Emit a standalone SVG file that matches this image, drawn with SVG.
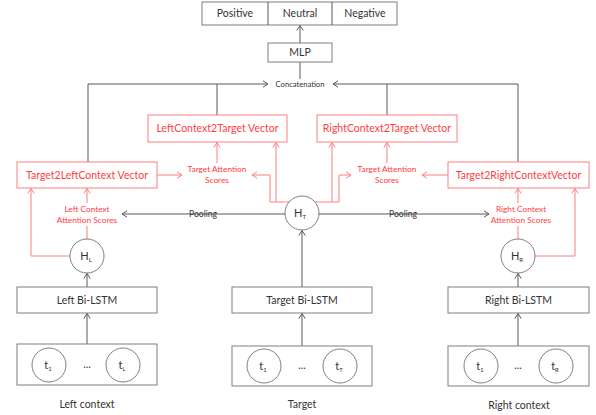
<svg xmlns="http://www.w3.org/2000/svg" width="596" height="415" viewBox="0 0 596 415">
<style>
.box{fill:#fff;stroke:#7f7f7f;stroke-width:1}
.rbox{fill:#fff;stroke:#ff7f7f;stroke-width:1}
.circ{fill:#fff;stroke:#7f7f7f;stroke-width:1}
.g{fill:none;stroke:#595959;stroke-width:1}
.r{fill:none;stroke:#ff7f7f;stroke-width:1}
text{font-family:Lato,"Liberation Sans",sans-serif;text-anchor:middle;fill:#333}
.t{font-size:10.5px}
.rt{font-size:10.5px;fill:#ff4040}
.st{font-size:8.3px;fill:#ff4040}
.sm{font-size:7.6px}
.pl{font-size:8.6px}
.lbl{font-size:11px}
.sub{font-size:6px}
</style>
<defs>
<marker id="ag" markerUnits="userSpaceOnUse" markerWidth="8" markerHeight="8" refX="6" refY="4" orient="auto">
<path d="M1,0.8 L6,4 L1,7.2" fill="none" stroke="#595959" stroke-width="1"/>
</marker>
<marker id="ar" markerUnits="userSpaceOnUse" markerWidth="8" markerHeight="8" refX="6" refY="4" orient="auto">
<path d="M1,0.8 L6,4 L1,7.2" fill="none" stroke="#ff7f7f" stroke-width="1"/>
</marker>
</defs>

<g id="connectors">
<path class="g" d="M300,43 V25.5" marker-end="url(#ag)"/>
<path class="g" d="M300,62 V79"/>
<path class="g" d="M88,162 V84 H268" marker-end="url(#ag)"/>
<path class="g" d="M518,162 V84 H333" marker-end="url(#ag)"/>
<path class="g" d="M217,84 V115"/>
<path class="g" d="M387,84 V115"/>
<path class="g" d="M285,214 H122" marker-end="url(#ag)"/>
<path class="g" d="M319,214 H489" marker-end="url(#ag)"/>
<path class="g" d="M87,287 V273.5" marker-end="url(#ag)"/>
<path class="g" d="M302,287 V230.5" marker-end="url(#ag)"/>
<path class="g" d="M518,287 V273.5" marker-end="url(#ag)"/>
<path class="g" d="M87,344 V313.5" marker-end="url(#ag)"/>
<path class="g" d="M302,346 V313.5" marker-end="url(#ag)"/>
<path class="g" d="M518,346 V313.5" marker-end="url(#ag)"/>
<path class="r" d="M157,175 H182" marker-end="url(#ar)"/>
<path class="r" d="M217,163 V142.5" marker-end="url(#ar)"/>
<path class="r" d="M289,202 H270 V175 H252" marker-end="url(#ar)"/>
<path class="r" d="M276,202 V142.5" marker-end="url(#ar)"/>
<path class="r" d="M315,202 H339 V175 H351" marker-end="url(#ar)"/>
<path class="r" d="M332,202 V142.5" marker-end="url(#ar)"/>
<path class="r" d="M448,175 H422" marker-end="url(#ar)"/>
<path class="r" d="M387,163 V142.5" marker-end="url(#ar)"/>
<path class="r" d="M70,256 H31 V188.5" marker-end="url(#ar)"/>
<path class="r" d="M87,239 V226"/>
<path class="r" d="M87,203 V188.5" marker-end="url(#ar)"/>
<path class="r" d="M535,256 H575 V188.5" marker-end="url(#ar)"/>
<path class="r" d="M518,239 V226"/>
<path class="r" d="M518,203 V188.5" marker-end="url(#ar)"/>
</g>

<g id="output">
<rect class="box" x="202" y="2" width="195" height="23"/>
<line class="g" x1="268" y1="2" x2="268" y2="25" stroke="#7f7f7f"/>
<line class="g" x1="332" y1="2" x2="332" y2="25" stroke="#7f7f7f"/>
<text class="t" x="235" y="17">Positive</text>
<text class="t" x="300" y="17">Neutral</text>
<text class="t" x="365" y="17">Negative</text>
</g>
<g id="mlp">
<rect class="box" x="268" y="43" width="64" height="19"/>
<text class="t" x="300" y="56">MLP</text>
</g>
<g id="concatenation">
<text class="sm" x="300" y="87">Concatenation</text>
</g>

<g id="lc2t">
<rect class="rbox" x="148" y="115" width="139" height="27"/>
<text class="rt" x="217.5" y="132">LeftContext2Target Vector</text>
</g>
<g id="rc2t">
<rect class="rbox" x="317" y="115" width="140" height="27"/>
<text class="rt" x="387" y="132">RightContext2Target Vector</text>
</g>
<g id="t2lc">
<rect class="rbox" x="17" y="162" width="140" height="26"/>
<text class="rt" x="87" y="179">Target2LeftContext Vector</text>
</g>
<g id="t2rc">
<rect class="rbox" x="448" y="162" width="141" height="26"/>
<text class="rt" x="518.5" y="179">Target2RightContextVector</text>
</g>

<g id="tas-left">
<text class="st" x="217" y="172">Target Attention</text>
<text class="st" x="217" y="183">Scores</text>
</g>
<g id="tas-right">
<text class="st" x="387" y="172">Target Attention</text>
<text class="st" x="387" y="183">Scores</text>
</g>
<g id="lcas">
<text class="st" x="87" y="212">Left Context</text>
<text class="st" x="87" y="222.5">Attention Scores</text>
</g>
<g id="rcas">
<text class="st" x="521" y="212">Right Context</text>
<text class="st" x="521" y="222.5">Attention Scores</text>
</g>
<g id="pooling">
<text class="pl" x="203" y="217">Pooling</text>
<text class="pl" x="403" y="217">Pooling</text>
</g>

<g id="ht">
<circle class="circ" cx="302" cy="213" r="17"/>
<text class="lbl" x="300" y="217">H<tspan class="sub" dy="2">T</tspan></text>
</g>
<g id="hl">
<circle class="circ" cx="87" cy="256" r="17"/>
<text class="lbl" x="86" y="260">H<tspan class="sub" dy="2">L</tspan></text>
</g>
<g id="hr">
<circle class="circ" cx="518" cy="256" r="17"/>
<text class="lbl" x="517" y="260">H<tspan class="sub" dy="2">R</tspan></text>
</g>

<g id="left-bilstm">
<rect class="box" x="17" y="287" width="140" height="26"/>
<text class="t" x="87" y="304">Left Bi-LSTM</text>
</g>
<g id="target-bilstm">
<rect class="box" x="232" y="287" width="140" height="26"/>
<text class="t" x="302" y="304">Target Bi-LSTM</text>
</g>
<g id="right-bilstm">
<rect class="box" x="448" y="287" width="141" height="26"/>
<text class="t" x="518.5" y="304">Right Bi-LSTM</text>
</g>

<g id="left-input">
<rect class="box" x="17" y="344" width="140" height="41"/>
<circle class="circ" cx="49" cy="365" r="17"/>
<circle class="circ" cx="123" cy="365" r="17"/>
<text class="lbl" x="48" y="369">t<tspan class="sub" dy="2">1</tspan></text>
<text class="t" x="87" y="368">...</text>
<text class="lbl" x="122" y="369">t<tspan class="sub" dy="2">L</tspan></text>
</g>
<g id="target-input">
<rect class="box" x="232" y="346" width="140" height="40"/>
<circle class="circ" cx="264" cy="366" r="17"/>
<circle class="circ" cx="340" cy="366" r="17"/>
<text class="lbl" x="263" y="370">t<tspan class="sub" dy="2">1</tspan></text>
<text class="t" x="302" y="369">...</text>
<text class="lbl" x="339" y="370">t<tspan class="sub" dy="2">T</tspan></text>
</g>
<g id="right-input">
<rect class="box" x="448" y="346" width="141" height="40"/>
<circle class="circ" cx="481" cy="366" r="17"/>
<circle class="circ" cx="556" cy="366" r="17"/>
<text class="lbl" x="480" y="370">t<tspan class="sub" dy="2">1</tspan></text>
<text class="t" x="518" y="369">...</text>
<text class="lbl" x="555" y="370">t<tspan class="sub" dy="2">R</tspan></text>
</g>

<g id="labels">
<text class="t" x="87" y="408">Left context</text>
<text class="t" x="302" y="408">Target</text>
<text class="t" x="519" y="409">Right context</text>
</g>
</svg>
